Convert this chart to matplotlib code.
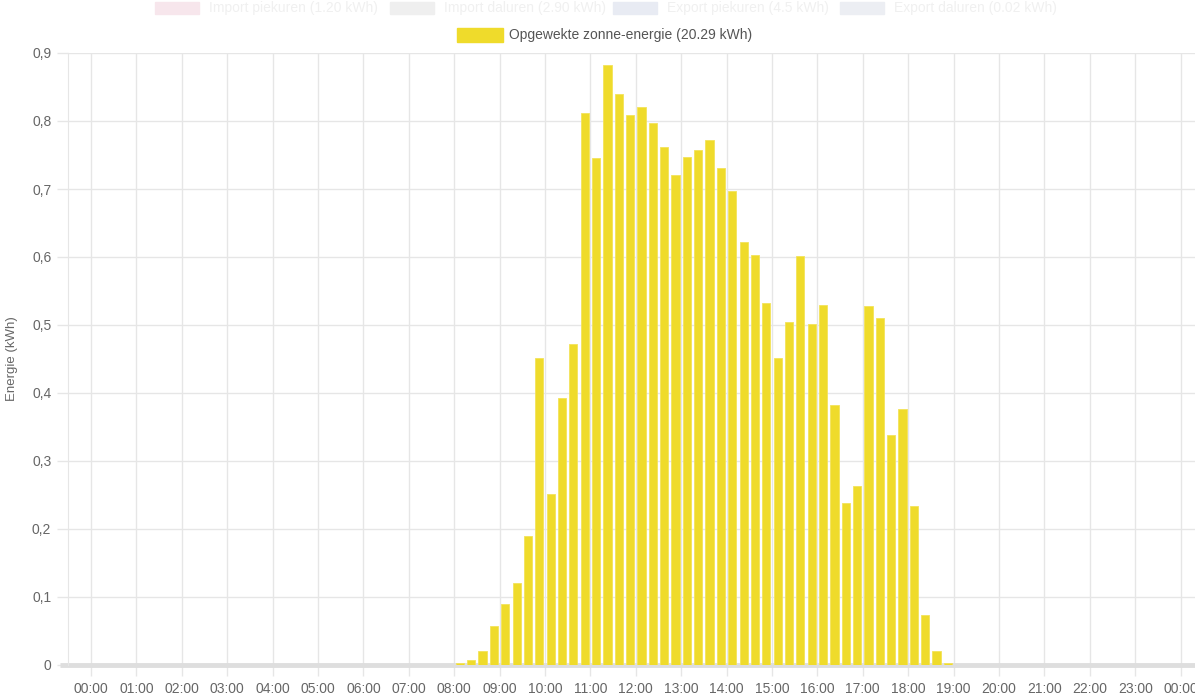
import matplotlib
matplotlib.use("Agg")
import numpy as np
import matplotlib.pyplot as plt
from matplotlib.patches import Rectangle

plt.rcParams['font.family'] = ['Liberation Sans', 'DejaVu Sans']

# opgewekte zonne-energie per kwartier (kWh), vanaf 08:00
start_hour = 8
solar_kwh = [0.003, 0.008, 0.020, 0.058, 0.089, 0.120, 0.190, 0.452,
             0.252, 0.393, 0.472, 0.812, 0.745, 0.882, 0.840, 0.809,
             0.821, 0.797, 0.762, 0.720, 0.747, 0.758, 0.772, 0.731,
             0.697, 0.622, 0.603, 0.532, 0.452, 0.505, 0.602, 0.502,
             0.530, 0.383, 0.238, 0.263, 0.528, 0.510, 0.338, 0.376,
             0.234, 0.074, 0.021, 0.003]
total_label = "Opgewekte zonne-energie (20.29 kWh)"

hour_labels = ["%02d:00" % (h % 24) for h in range(25)]
y_ticks = [0, 0.1, 0.2, 0.3, 0.4, 0.5, 0.6, 0.7, 0.8, 0.9]

hidden_items = ["Import piekuren (1.20 kWh)", "Import daluren (2.90 kWh)",
                "Export piekuren (4.5 kWh)", "Export daluren (0.02 kWh)"]
hidden_colors = ["#f7e6ec", "#efefef", "#e8ebf3", "#eceef3"]

W, H = 1195, 695
fig = plt.figure(figsize=(W / 100, H / 100), dpi=100)
ax = fig.add_axes([68 / W, 30 / H, (W - 68) / W, (665 - 53) / H])

grid_c = "#e6e6e6"
text_c = "#666666"
bar_c = "#efdb2b"

x = start_hour + 0.25 * np.arange(len(solar_kwh)) + 0.125
ax.bar(x, solar_kwh, width=0.18, color=bar_c, edgecolor="#f3e35a",
       linewidth=0.6, zorder=3)

ax.set_xlim((68 - 91) / 45.4, (W - 91) / 45.4)
ax.set_ylim(0, 0.9)
ax.set_xticks(range(25))
ax.set_xticklabels(hour_labels)
ax.set_yticks(y_ticks)
ax.set_yticklabels([("%g" % v).replace(".", ",") for v in y_ticks])

ax.grid(True, color=grid_c, linewidth=1, zorder=0)
for s in ["top", "right", "bottom"]:
    ax.spines[s].set_visible(False)
ax.spines["left"].set_color(grid_c)
ax.tick_params(axis="both", length=8, color=grid_c, labelcolor=text_c,
               labelsize=10, width=1)
ax.tick_params(axis="x", pad=4)
ax.tick_params(axis="y", pad=4)

# dikke nul-lijn, onder de staven
ax.plot([-8 / (W - 68), 1], [0, 0], transform=ax.get_yaxis_transform(),
        color="#dedede", linewidth=3.5, clip_on=False, zorder=2,
        solid_capstyle="butt")

ax.set_ylabel("Energie (kWh)", color=text_c, fontsize=9.5, labelpad=10)

# legenda
fig.patches.append(Rectangle((457 / W, 1 - 42 / H), 46 / W, 14 / H,
                             transform=fig.transFigure, color=bar_c))
fig.text(509 / W, 1 - 35 / H, total_label, color="#555555", fontsize=10,
         va="center", ha="left")

# verborgen datasets (vervaagd)
box_x = [155, 390, 613, 840]
for bx, lab, col in zip(box_x, hidden_items, hidden_colors):
    fig.patches.append(Rectangle((bx / W, 1 - 14 / H), 44 / W, 12 / H,
                                 transform=fig.transFigure, color=col))
    fig.text((bx + 54) / W, 1 - 8 / H, lab, color="#f0f0f0", fontsize=10,
             va="center", ha="left")

fig.savefig("out.png", dpi=100)
